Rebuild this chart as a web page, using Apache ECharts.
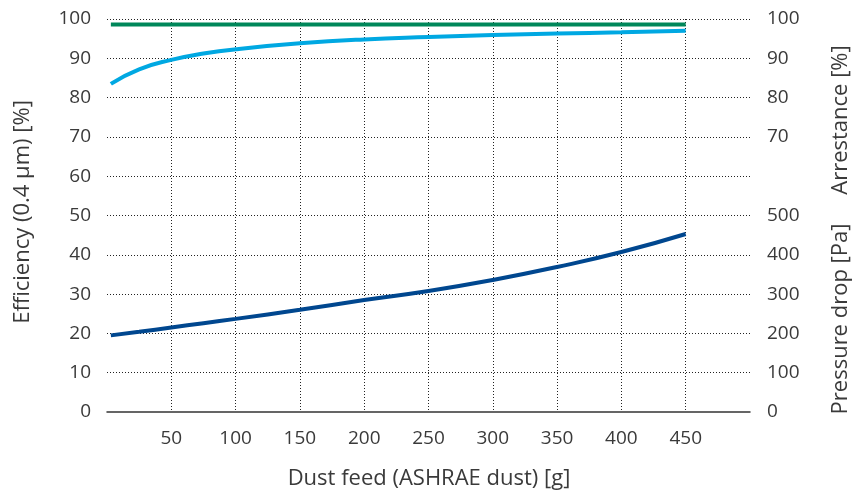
<!DOCTYPE html>
<html><head><meta charset="utf-8">
<script src="https://cdn.jsdelivr.net/npm/echarts@6/dist/echarts.min.js"></script>
<style>html,body{margin:0;padding:0;background:#fff}#c{width:853px;height:496px}</style>
</head><body><div id="c"></div>
<script>
var dustFeed = [3, 25, 50, 75, 100, 150, 200, 250, 300, 350, 400, 450];
var efficiency = [83.5, 87.2, 89.6, 91.2, 92.3, 93.8, 94.8, 95.4, 95.9, 96.3, 96.6, 97.0];
var arrestance = [98.6, 98.6, 98.6, 98.6, 98.6, 98.6, 98.6, 98.6, 98.6, 98.6, 98.6, 98.6];
var pressureDrop = [195, 204, 215, 226, 237, 260, 285, 308, 336, 369, 407, 453];
var xTicks = [50, 100, 150, 200, 250, 300, 350, 400, 450];

function pairs(xs, ys, k) { return xs.map(function (x, i) { return [x, ys[i] * (k || 1)]; }); }

var txt = '#3a3a3a', font = 'Open Sans';
var nameFont = '22px "Open Sans"';
var chart = echarts.init(document.getElementById('c'));
chart.setOption({
  animation: false,
  textStyle: { fontFamily: font },
  grid: { left: 107, right: 103, top: 19, bottom: 84 },
  xAxis: {
    type: 'value', min: 0, max: 500, interval: 50,
    axisLine: { show: true, lineStyle: { color: '#333', width: 1.5 } },
    axisTick: { show: false },
    axisLabel: { color: txt, fontSize: 19, margin: 17, fontFamily: font,
      formatter: function (v) { return xTicks.indexOf(v) >= 0 ? String(v) : ''; } },
    splitLine: { show: true, showMinLine: false, showMaxLine: false, lineStyle: { color: '#222', type: [1, 2], width: 1 } }
  },
  yAxis: [{
    type: 'value', min: 0, max: 100, interval: 10, position: 'left',
    axisLine: { show: false }, axisTick: { show: false },
    axisLabel: { color: txt, fontSize: 19, margin: 16, fontFamily: font },
    splitLine: { show: true, showMinLine: false, lineStyle: { color: '#222', type: [1, 2], width: 1 } }
  }, {
    type: 'value', min: 0, max: 100, interval: 10, position: 'right',
    axisLine: { show: false }, axisTick: { show: false },
    axisLabel: { color: txt, fontSize: 19, margin: 17, fontFamily: font,
      formatter: function (v) { return v <= 50 ? String(v * 10) : (v >= 70 ? String(v) : ''); } },
    splitLine: { show: false }
  }],
  graphic: [
    { type: 'text', x: 429, y: 479, style: { text: 'Dust feed (ASHRAE dust) [g]', fill: txt, font: nameFont, align: 'center', verticalAlign: 'middle' } },
    { type: 'text', x: 23, y: 212, rotation: Math.PI / 2, style: { text: 'Efficiency (0.4 µm) [%]', fill: txt, font: nameFont, align: 'center', verticalAlign: 'middle' } },
    { type: 'text', x: 841, y: 120, rotation: Math.PI / 2, style: { text: 'Arrestance [%]', fill: txt, font: nameFont, align: 'center', verticalAlign: 'middle' } },
    { type: 'text', x: 841, y: 319, rotation: Math.PI / 2, style: { text: 'Pressure drop [Pa]', fill: txt, font: nameFont, align: 'center', verticalAlign: 'middle' } }
  ],
  series: [
    { type: 'line', data: pairs(dustFeed, arrestance), smooth: true, showSymbol: false, lineStyle: { color: '#00875a', width: 4 } },
    { type: 'line', data: pairs(dustFeed, efficiency), smooth: true, showSymbol: false, lineStyle: { color: '#00a8e2', width: 4 } },
    { type: 'line', data: pairs(dustFeed, pressureDrop, 0.1), smooth: true, showSymbol: false, lineStyle: { color: '#00478f', width: 4 } }
  ]
});
</script></body></html>
